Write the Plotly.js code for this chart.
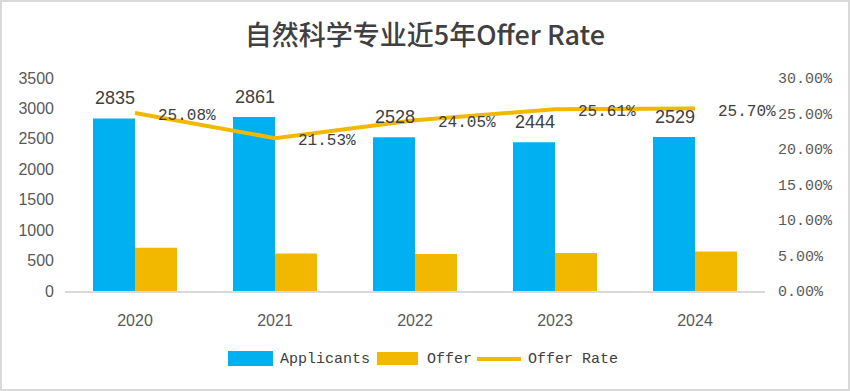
<!DOCTYPE html>
<html>
<head>
<meta charset="utf-8">
<script src="https://cdn.plot.ly/plotly-3.0.1.min.js"></script>
<style>
html,body{margin:0;padding:0;background:#fff;}
#wrap{position:relative;width:850px;height:391px;}
#chart{position:absolute;left:0;top:0;width:850px;height:391px;}
#frame{position:absolute;left:0;top:0;width:850px;height:391px;box-sizing:border-box;border:2px solid #d9d9d9;pointer-events:none;}
</style>
</head>
<body>
<div id="wrap"><div id="chart"></div><div id="frame"></div></div>
<script>
const years = ['2020', '2021', '2022', '2023', '2024'];
const applicants = [2835, 2861, 2528, 2444, 2529];
const offers = [711, 616, 608, 626, 650];
const offerRate = [0.2508, 0.2153, 0.2405, 0.2561, 0.2570];
const rateLabels = ['25.08%', '21.53%', '24.05%', '25.61%', '25.70%'];
const seriesNames = ['Applicants', 'Offer', 'Offer Rate'];

const blue = '#00B0F0';
const gold = '#F2B800';
const textCol = '#404040';

const traces = [
  {type:'bar', name:seriesNames[0], x:years, y:applicants, marker:{color:blue}, hoverinfo:'skip'},
  {type:'bar', name:seriesNames[1], x:years, y:offers, marker:{color:gold}, hoverinfo:'skip'},
  {type:'scatter', mode:'lines', name:seriesNames[2], x:years, y:offerRate, yaxis:'y2',
   line:{color:gold, width:4}, hoverinfo:'skip'}
];

const annotations = [];
years.forEach((yr, i) => {
  annotations.push({x:i, y:applicants[i], xref:'x', yref:'y', text:String(applicants[i]),
    showarrow:false, xshift:-20, yshift:8, yanchor:'bottom',
    font:{family:'Liberation Sans, Arial', size:18, color:textCol}});
  annotations.push({x:i, y:offerRate[i], xref:'x', yref:'y2', text:rateLabels[i],
    showarrow:false, xanchor:'left', xshift:21, yshift:-3,
    font:{family:'Liberation Mono, monospace', size:16, color:textCol}});
});

// custom legend (paper coords: plot area x 65..765, y 78..291)
const T = 78, B = 291;
const px = v => (v - 65) / 700;
const py = v => (B - v) / (B - T);
const legFont = {family:'Liberation Mono, monospace', size:15, color:textCol};
const shapes = [
  {type:'rect', xref:'paper', yref:'paper', x0:px(228), x1:px(273), y0:py(351), y1:py(366),
   fillcolor:blue, line:{width:0}},
  {type:'rect', xref:'paper', yref:'paper', x0:px(377), x1:px(418), y0:py(352), y1:py(365),
   fillcolor:gold, line:{width:0}},
  {type:'line', xref:'paper', yref:'paper', x0:px(477), x1:px(521), y0:py(359), y1:py(359),
   line:{color:gold, width:4}}
];
[[278, 0], [425, 1], [526, 2]].forEach(([xx, k]) => {
  annotations.push({xref:'paper', yref:'paper', x:px(xx), y:py(359), xanchor:'left', yanchor:'middle',
    text:seriesNames[k], showarrow:false, font:legFont});
});

const layout = {
  width:850, height:391,
  margin:{l:65, r:85, t:T, b:391 - B},
  paper_bgcolor:'#fff', plot_bgcolor:'#fff',
  title:{text:'自然科学专业近5年Offer Rate', x:0.5, xanchor:'center', y:0.91, yanchor:'middle',
    font:{family:'Noto Sans CJK SC', size:27, color:textCol, weight:500}},
  barmode:'group', bargap:0.4, bargroupgap:0,
  showlegend:false,
  xaxis:{type:'category', range:[-0.5, 4.5], showgrid:false, showline:true, linecolor:'#d9d9d9', linewidth:2,
    ticks:'', ticklabelstandoff:14, tickfont:{family:'Liberation Sans, Arial', size:16, color:'#595959'}},
  yaxis:{range:[0,3500], dtick:500, showgrid:false, zeroline:false, showline:false, ticks:'',
    ticklabelstandoff:10, tickfont:{family:'Liberation Sans, Arial', size:16, color:'#595959'}},
  yaxis2:{range:[0,0.30], dtick:0.05, tickformat:'.2%', overlaying:'y', side:'right',
    showgrid:false, zeroline:false, showline:false, ticks:'', ticklabelstandoff:12,
    tickfont:{family:'Liberation Mono, monospace', size:15, color:'#595959'}},
  annotations:annotations,
  shapes:shapes
};

Plotly.newPlot('chart', traces, layout, {displayModeBar:false, staticPlot:true});
</script>
</body>
</html>
